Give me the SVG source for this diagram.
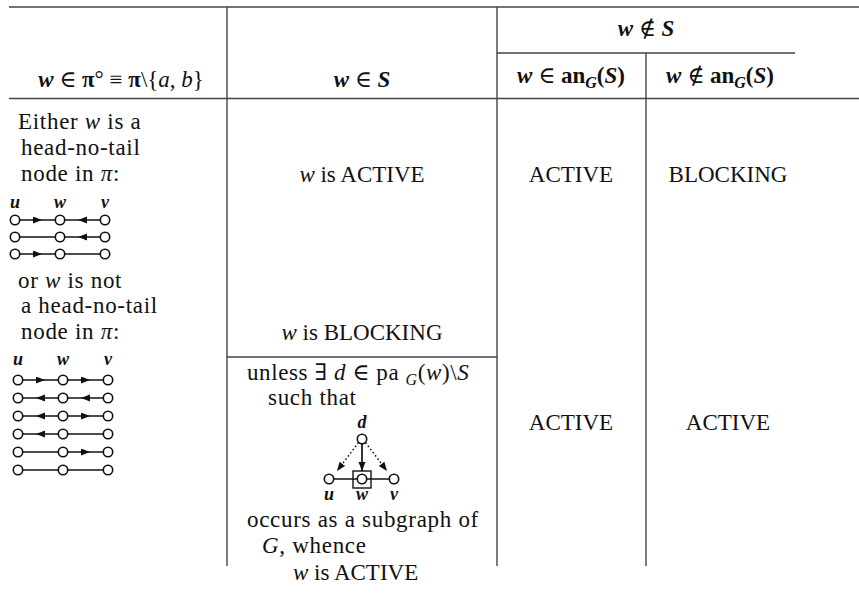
<svg xmlns="http://www.w3.org/2000/svg" width="859" height="600" viewBox="0 0 859 600" font-family="'Liberation Serif', 'DejaVu Serif', serif">
<style>
text{font-family:'Liberation Serif','DejaVu Serif',serif;fill:#111;}
.t{font-size:23px;}
.ls{letter-spacing:0.7px;}
.h{font-size:23px;}
.bi{font-weight:bold;font-style:italic;}
.b{font-weight:bold;}
.i{font-style:italic;}
.lab{font-size:18px;font-weight:bold;font-style:italic;}
.rule{stroke:#444;stroke-width:1.4;fill:none;}
.e{stroke:#111;stroke-width:1.7;fill:none;}
.ea{stroke:#111;stroke-width:1.7;fill:none;marker-mid:url(#mid);}
.n{fill:#fff;stroke:#111;stroke-width:1.6;}
.dot{stroke:#111;stroke-width:1.5;fill:none;stroke-dasharray:1.6 2.4;marker-end:url(#end);}
</style>
<defs>
<marker id="mid" markerUnits="userSpaceOnUse" markerWidth="10" markerHeight="8" refX="4.5" refY="3.5" orient="auto"><path d="M0,0 L9,3.5 L0,7 z" fill="#111"/></marker>
<marker id="end" markerUnits="userSpaceOnUse" markerWidth="10" markerHeight="8" refX="9" refY="3.5" orient="auto"><path d="M0,0 L9,3.5 L0,7 z" fill="#111"/></marker>
</defs>
<rect width="859" height="600" fill="#fff"/>

<g id="table-rules">
<line class="rule" x1="9" y1="7" x2="859" y2="7" stroke-width="1.6"/>
<line class="rule" x1="9" y1="98.5" x2="859" y2="98.5" stroke-width="2"/>
<line class="rule" x1="497" y1="53" x2="795" y2="53" stroke-width="1.2"/>
<line class="rule" x1="227" y1="7" x2="227" y2="566"/>
<line class="rule" x1="497" y1="7" x2="497" y2="566"/>
<line class="rule" x1="646" y1="53" x2="646" y2="566"/>
<line class="rule" x1="227" y1="357" x2="497" y2="357"/>
</g>

<g id="header">
<text class="h" x="121" y="87" text-anchor="middle"><tspan class="bi">w</tspan> ∈ <tspan class="b">π</tspan>° ≡ <tspan class="b">π</tspan>\{<tspan class="i">a</tspan>, <tspan class="i">b</tspan>}</text>
<text class="h" x="362" y="87" text-anchor="middle"><tspan class="bi">w</tspan> ∈ <tspan class="bi">S</tspan></text>
<text class="h" x="646" y="36" text-anchor="middle"><tspan class="bi">w</tspan> ∉ <tspan class="bi">S</tspan></text>
<text class="h" x="571" y="83" text-anchor="middle"><tspan class="bi">w</tspan> ∈ <tspan class="b">an</tspan><tspan class="bi" font-size="16" dy="5">G</tspan><tspan class="b" dy="-5">(</tspan><tspan class="bi">S</tspan><tspan class="b">)</tspan></text>
<text class="h" x="720" y="83" text-anchor="middle"><tspan class="bi">w</tspan> ∉ <tspan class="b">an</tspan><tspan class="bi" font-size="16" dy="5">G</tspan><tspan class="b" dy="-5">(</tspan><tspan class="bi">S</tspan><tspan class="b">)</tspan></text>
</g>

<g id="col1-text">
<text class="t ls" x="18" y="129">Either <tspan class="i">w</tspan> is a</text>
<text class="t ls" x="21" y="155">head-no-tail</text>
<text class="t ls" x="21" y="181">node in <tspan class="i">π</tspan>:</text>
<text class="t ls" x="18" y="288">or <tspan class="i">w</tspan> is not</text>
<text class="t ls" x="21" y="313">a head-no-tail</text>
<text class="t ls" x="21" y="339">node in <tspan class="i">π</tspan>:</text>
</g>

<g id="paths-head-no-tail">
<text class="lab" x="15" y="208" text-anchor="middle">u</text>
<text class="lab" x="60" y="208" text-anchor="middle">w</text>
<text class="lab" x="105" y="208" text-anchor="middle">v</text>
<g id="connectors-a">
<polyline class="ea" points="15,220 37.5,220 60,220"/>
<polyline class="ea" points="105,220 82.5,220 60,220"/>
<line class="e" x1="15" y1="237" x2="60" y2="237"/>
<polyline class="ea" points="105,237 82.5,237 60,237"/>
<polyline class="ea" points="15,254 37.5,254 60,254"/>
<line class="e" x1="60" y1="254" x2="105" y2="254"/>
</g>
<g id="nodes-a" class="n">
<circle cx="15" cy="220" r="4.7"/><circle cx="60" cy="220" r="4.7"/><circle cx="105" cy="220" r="4.7"/>
<circle cx="15" cy="237" r="4.7"/><circle cx="60" cy="237" r="4.7"/><circle cx="105" cy="237" r="4.7"/>
<circle cx="15" cy="254" r="4.7"/><circle cx="60" cy="254" r="4.7"/><circle cx="105" cy="254" r="4.7"/>
</g>
</g>

<g id="paths-not-head-no-tail">
<text class="lab" x="18" y="365" text-anchor="middle">u</text>
<text class="lab" x="63" y="365" text-anchor="middle">w</text>
<text class="lab" x="108" y="365" text-anchor="middle">v</text>
<g id="connectors-b">
<polyline class="ea" points="18,380 40.5,380 63,380"/>
<polyline class="ea" points="63,380 85.5,380 108,380"/>
<polyline class="ea" points="63,398 40.5,398 18,398"/>
<polyline class="ea" points="108,398 85.5,398 63,398"/>
<polyline class="ea" points="63,416 40.5,416 18,416"/>
<polyline class="ea" points="63,416 85.5,416 108,416"/>
<polyline class="ea" points="63,434 40.5,434 18,434"/>
<line class="e" x1="63" y1="434" x2="108" y2="434"/>
<line class="e" x1="18" y1="452" x2="63" y2="452"/>
<polyline class="ea" points="63,452 85.5,452 108,452"/>
<line class="e" x1="18" y1="470" x2="108" y2="470"/>
</g>
<g id="nodes-b" class="n">
<circle cx="18" cy="380" r="4.7"/><circle cx="63" cy="380" r="4.7"/><circle cx="108" cy="380" r="4.7"/>
<circle cx="18" cy="398" r="4.7"/><circle cx="63" cy="398" r="4.7"/><circle cx="108" cy="398" r="4.7"/>
<circle cx="18" cy="416" r="4.7"/><circle cx="63" cy="416" r="4.7"/><circle cx="108" cy="416" r="4.7"/>
<circle cx="18" cy="434" r="4.7"/><circle cx="63" cy="434" r="4.7"/><circle cx="108" cy="434" r="4.7"/>
<circle cx="18" cy="452" r="4.7"/><circle cx="63" cy="452" r="4.7"/><circle cx="108" cy="452" r="4.7"/>
<circle cx="18" cy="470" r="4.7"/><circle cx="63" cy="470" r="4.7"/><circle cx="108" cy="470" r="4.7"/>
</g>
</g>

<g id="col2-text">
<text class="t" x="362" y="182" text-anchor="middle"><tspan class="i">w</tspan> is ACTIVE</text>
<text class="t" x="362" y="340" text-anchor="middle"><tspan class="i">w</tspan> is BLOCKING</text>
<text class="t" x="247" y="380" letter-spacing="0.6"><tspan>unless ∃ </tspan><tspan class="i">d</tspan> ∈ pa <tspan class="i" font-size="16" dy="5">G</tspan><tspan dy="-5">(</tspan><tspan class="i">w</tspan>)\<tspan class="i">S</tspan></text>
<text class="t ls" x="268" y="405">such that</text>
<text class="t ls" x="247" y="527">occurs as a subgraph of</text>
<text class="t ls" x="262" y="553"><tspan class="i">G</tspan>, whence</text>
<text class="t" x="293" y="580"><tspan class="i">w</tspan> is ACTIVE</text>
</g>

<g id="triangle">
<text class="lab" x="362" y="428" text-anchor="middle">d</text>
<text class="lab" x="329" y="500" text-anchor="middle">u</text>
<text class="lab" x="362" y="500" text-anchor="middle">w</text>
<text class="lab" x="394" y="500" text-anchor="middle">v</text>
<g id="connectors-c">
<line class="e" x1="329" y1="479" x2="394" y2="479"/>
<line class="e" x1="362" y1="443" x2="362" y2="471" marker-end="url(#end)"/>
<line class="dot" x1="358.5" y1="442.5" x2="337" y2="471"/>
<line class="dot" x1="365.5" y1="442.5" x2="387" y2="471"/>
</g>
<rect x="353" y="471" width="18" height="17" fill="none" stroke="#111" stroke-width="1.4"/>
<g id="nodes-c" class="n">
<circle cx="362" cy="439" r="4.7"/>
<circle cx="329" cy="479" r="4.7"/>
<circle cx="362" cy="479" r="4.7"/>
<circle cx="394" cy="479" r="4.7"/>
</g>
</g>

<g id="col34-text">
<text class="t" x="571" y="182" text-anchor="middle">ACTIVE</text>
<text class="t" x="728" y="182" text-anchor="middle">BLOCKING</text>
<text class="t" x="571" y="430" text-anchor="middle">ACTIVE</text>
<text class="t" x="728" y="430" text-anchor="middle">ACTIVE</text>
</g>
</svg>
